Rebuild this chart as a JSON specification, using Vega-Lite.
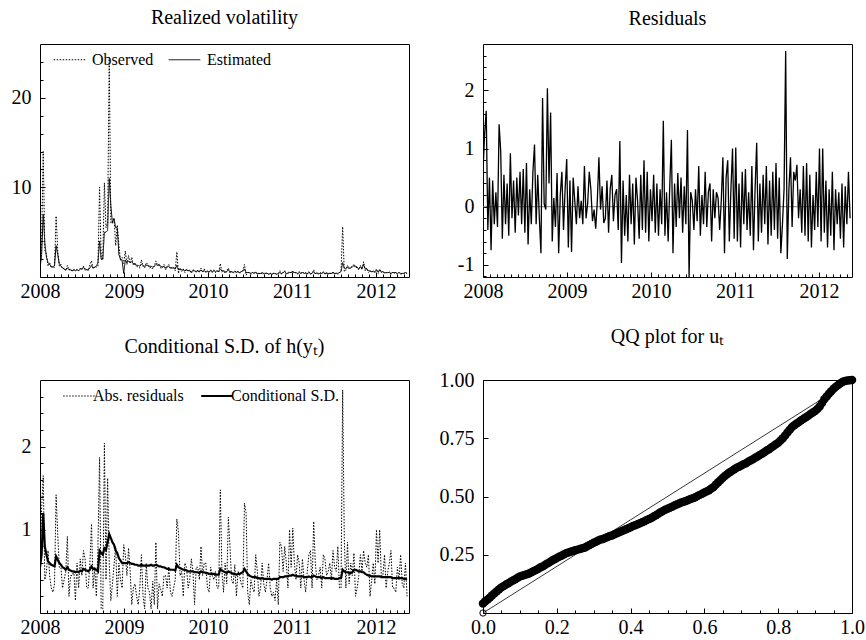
{
"$schema": "https://vega.github.io/schema/vega-lite/v6.json",
"background": "white",
"padding": {"left": 10, "top": 7, "right": 5, "bottom": 5},
"config": {
  "font": "Liberation Serif",
  "view": {"stroke": "black", "strokeWidth": 1},
  "axis": {"grid": false, "domain": false, "tickColor": "black", "tickWidth": 1, "labelColor": "black", "labelFont": "Liberation Serif", "labelFontSize": 20, "labelFlush": false, "labelOverlap": false, "labelBound": false, "zindex": 1},
  "title": {"font": "Liberation Serif", "fontSize": 20, "fontWeight": "normal", "color": "black", "anchor": "middle", "baseline": "alphabetic"},
  "legend": {"orient": "none", "direction": "horizontal", "symbolType": "stroke", "symbolSize": 1000, "symbolStrokeColor": "black", "symbolStrokeWidth": 1, "labelFont": "Liberation Serif", "labelFontSize": 16, "labelColor": "black", "labelOffset": 6, "columnPadding": 12, "padding": 0}
},
"datasets": {
"ts": [
{"w":0,"o":1.2,"e":0.9,"r":0.6,"a":0.6,"s":0.55},
{"w":1,"o":4.0,"e":2.5,"r":1.25,"a":1.25,"s":0.7},
{"w":2,"o":14.0,"e":7.0,"r":1.65,"a":1.65,"s":1.2},
{"w":3,"o":3.0,"e":3.8,"r":-0.4,"a":0.4,"s":0.8},
{"w":4,"o":2.5,"e":2.2,"r":0.5,"a":0.5,"s":0.7},
{"w":5,"o":1.2,"e":1.6,"r":-0.75,"a":0.75,"s":0.62},
{"w":6,"o":1.6,"e":1.4,"r":0.45,"a":0.45,"s":0.6},
{"w":7,"o":1.0,"e":1.2,"r":-0.3,"a":0.3,"s":0.58},
{"w":8,"o":1.2,"e":1.1,"r":0.25,"a":0.25,"s":0.57},
{"w":9,"o":1.0,"e":1.3,"r":-0.35,"a":0.35,"s":0.56},
{"w":10,"o":6.8,"e":3.5,"r":1.42,"a":1.42,"s":0.68},
{"w":11,"o":3.0,"e":2.5,"r":0.95,"a":0.95,"s":0.64},
{"w":12,"o":1.2,"e":1.5,"r":-0.55,"a":0.55,"s":0.6},
{"w":13,"o":1.4,"e":1.2,"r":0.55,"a":0.55,"s":0.58},
{"w":14,"o":0.9,"e":1.0,"r":-0.3,"a":0.3,"s":0.55},
{"w":15,"o":1.0,"e":0.9,"r":0.4,"a":0.4,"s":0.54},
{"w":16,"o":0.7,"e":0.8,"r":-0.5,"a":0.5,"s":0.52},
{"w":17,"o":1.3,"e":1.0,"r":0.92,"a":0.92,"s":0.55},
{"w":18,"o":0.8,"e":0.8,"r":-0.2,"a":0.2,"s":0.52},
{"w":19,"o":0.9,"e":0.8,"r":0.45,"a":0.45,"s":0.51},
{"w":20,"o":0.6,"e":0.7,"r":-0.45,"a":0.45,"s":0.5},
{"w":21,"o":0.9,"e":0.8,"r":0.5,"a":0.5,"s":0.5},
{"w":22,"o":0.7,"e":0.7,"r":-0.15,"a":0.15,"s":0.49},
{"w":23,"o":0.9,"e":0.8,"r":0.6,"a":0.6,"s":0.5},
{"w":24,"o":0.7,"e":0.7,"r":-0.3,"a":0.3,"s":0.49},
{"w":25,"o":1.0,"e":0.9,"r":0.65,"a":0.65,"s":0.51},
{"w":26,"o":0.8,"e":0.9,"r":-0.45,"a":0.45,"s":0.5},
{"w":27,"o":1.2,"e":1.1,"r":0.75,"a":0.75,"s":0.53},
{"w":28,"o":0.7,"e":0.9,"r":-0.65,"a":0.65,"s":0.52},
{"w":29,"o":0.9,"e":0.8,"r":0.3,"a":0.3,"s":0.51},
{"w":30,"o":0.7,"e":0.8,"r":-0.3,"a":0.3,"s":0.5},
{"w":31,"o":1.4,"e":1.0,"r":0.6,"a":0.6,"s":0.52},
{"w":32,"o":1.8,"e":1.3,"r":1.07,"a":1.07,"s":0.56},
{"w":33,"o":0.9,"e":1.0,"r":-0.3,"a":0.3,"s":0.53},
{"w":34,"o":1.2,"e":1.1,"r":0.55,"a":0.55,"s":0.53},
{"w":35,"o":1.1,"e":1.2,"r":-0.2,"a":0.2,"s":0.52},
{"w":36,"o":1.2,"e":1.6,"r":-0.8,"a":0.8,"s":0.5},
{"w":37,"o":10.0,"e":4.0,"r":1.87,"a":1.87,"s":0.75},
{"w":38,"o":2.0,"e":2.0,"r":0.05,"a":0.05,"s":0.72},
{"w":39,"o":1.9,"e":2.0,"r":-0.05,"a":0.05,"s":0.7},
{"w":40,"o":10.5,"e":5.0,"r":2.04,"a":2.04,"s":0.78},
{"w":41,"o":5.5,"e":5.0,"r":0.4,"a":0.4,"s":0.76},
{"w":42,"o":6.0,"e":5.2,"r":1.62,"a":1.62,"s":0.85},
{"w":43,"o":24.5,"e":11.0,"r":-0.6,"a":0.6,"s":0.95},
{"w":44,"o":6.0,"e":8.0,"r":0.15,"a":0.15,"s":0.9},
{"w":45,"o":6.2,"e":6.0,"r":-0.35,"a":0.35,"s":0.85},
{"w":46,"o":6.6,"e":6.5,"r":0.58,"a":0.58,"s":0.82},
{"w":47,"o":3.5,"e":5.5,"r":-0.8,"a":0.8,"s":0.75},
{"w":48,"o":5.8,"e":5.5,"r":0.2,"a":0.2,"s":0.72},
{"w":49,"o":3.6,"e":2.5,"r":0.6,"a":0.6,"s":0.66},
{"w":50,"o":1.8,"e":2.0,"r":-0.4,"a":0.4,"s":0.63},
{"w":51,"o":2.2,"e":1.8,"r":0.3,"a":0.3,"s":0.6},
{"w":52,"o":1.5,"e":0.4,"r":0.82,"a":0.82,"s":0.6},
{"w":53,"o":2.9,"e":1.9,"r":-0.7,"a":0.7,"s":0.6},
{"w":54,"o":1.4,"e":1.6,"r":0.45,"a":0.45,"s":0.6},
{"w":55,"o":2.4,"e":1.8,"r":-0.78,"a":0.78,"s":0.61},
{"w":56,"o":1.5,"e":1.6,"r":0.5,"a":0.5,"s":0.6},
{"w":57,"o":2.2,"e":1.7,"r":0.1,"a":0.1,"s":0.59},
{"w":58,"o":1.3,"e":1.5,"r":-0.3,"a":0.3,"s":0.59},
{"w":59,"o":1.6,"e":1.4,"r":0.35,"a":0.35,"s":0.58},
{"w":60,"o":1.2,"e":1.3,"r":-0.2,"a":0.2,"s":0.58},
{"w":61,"o":1.1,"e":1.3,"r":0.1,"a":0.1,"s":0.57},
{"w":62,"o":1.0,"e":1.2,"r":-0.3,"a":0.3,"s":0.57},
{"w":63,"o":1.9,"e":1.4,"r":0.7,"a":0.7,"s":0.58},
{"w":64,"o":1.2,"e":1.3,"r":-0.2,"a":0.2,"s":0.57},
{"w":65,"o":1.0,"e":1.2,"r":0.05,"a":0.05,"s":0.57},
{"w":66,"o":1.6,"e":1.3,"r":0.6,"a":0.6,"s":0.57},
{"w":67,"o":1.4,"e":1.3,"r":0.3,"a":0.3,"s":0.57},
{"w":68,"o":1.0,"e":1.2,"r":-0.25,"a":0.25,"s":0.57},
{"w":69,"o":1.1,"e":1.2,"r":-0.05,"a":0.05,"s":0.58},
{"w":70,"o":0.9,"e":1.1,"r":-0.38,"a":0.38,"s":0.57},
{"w":71,"o":1.2,"e":1.2,"r":0.1,"a":0.1,"s":0.57},
{"w":72,"o":1.8,"e":1.4,"r":0.85,"a":0.85,"s":0.58},
{"w":73,"o":1.3,"e":1.3,"r":-0.05,"a":0.05,"s":0.57},
{"w":74,"o":1.5,"e":1.3,"r":0.35,"a":0.35,"s":0.56},
{"w":75,"o":1.0,"e":1.2,"r":-0.28,"a":0.28,"s":0.56},
{"w":76,"o":1.0,"e":1.1,"r":-0.2,"a":0.2,"s":0.55},
{"w":77,"o":1.4,"e":1.2,"r":0.45,"a":0.45,"s":0.55},
{"w":78,"o":0.8,"e":1.0,"r":-0.45,"a":0.45,"s":0.54},
{"w":79,"o":1.2,"e":1.1,"r":0.3,"a":0.3,"s":0.53},
{"w":80,"o":1.4,"e":1.2,"r":0.55,"a":0.55,"s":0.53},
{"w":81,"o":0.9,"e":1.0,"r":-0.25,"a":0.25,"s":0.52},
{"w":82,"o":1.1,"e":1.0,"r":0.2,"a":0.2,"s":0.52},
{"w":83,"o":1.1,"e":1.0,"r":0.3,"a":0.3,"s":0.52},
{"w":84,"o":0.7,"e":0.9,"r":-0.4,"a":0.4,"s":0.51},
{"w":85,"o":2.8,"e":1.3,"r":1.13,"a":1.13,"s":0.58},
{"w":86,"o":0.4,"e":0.8,"r":-0.97,"a":0.97,"s":0.55},
{"w":87,"o":1.0,"e":0.9,"r":0.45,"a":0.45,"s":0.54},
{"w":88,"o":0.6,"e":0.8,"r":-0.5,"a":0.5,"s":0.53},
{"w":89,"o":0.9,"e":0.8,"r":0.2,"a":0.2,"s":0.52},
{"w":90,"o":0.5,"e":0.7,"r":-0.6,"a":0.6,"s":0.52},
{"w":91,"o":0.9,"e":0.8,"r":0.55,"a":0.55,"s":0.51},
{"w":92,"o":0.6,"e":0.7,"r":-0.3,"a":0.3,"s":0.5},
{"w":93,"o":0.8,"e":0.7,"r":0.4,"a":0.4,"s":0.5},
{"w":94,"o":0.4,"e":0.6,"r":-0.65,"a":0.65,"s":0.5},
{"w":95,"o":0.8,"e":0.7,"r":0.5,"a":0.5,"s":0.5},
{"w":96,"o":0.7,"e":0.7,"r":0.1,"a":0.1,"s":0.49},
{"w":97,"o":0.5,"e":0.6,"r":-0.55,"a":0.55,"s":0.49},
{"w":98,"o":0.8,"e":0.7,"r":0.55,"a":0.55,"s":0.49},
{"w":99,"o":0.5,"e":0.6,"r":-0.4,"a":0.4,"s":0.48},
{"w":100,"o":1.0,"e":0.8,"r":0.8,"a":0.8,"s":0.5},
{"w":101,"o":0.5,"e":0.6,"r":-0.45,"a":0.45,"s":0.49},
{"w":102,"o":0.9,"e":0.7,"r":0.6,"a":0.6,"s":0.49},
{"w":103,"o":0.5,"e":0.6,"r":-0.6,"a":0.6,"s":0.48},
{"w":104,"o":0.7,"e":0.6,"r":0.3,"a":0.3,"s":0.48},
{"w":105,"o":0.5,"e":0.6,"r":-0.25,"a":0.25,"s":0.47},
{"w":106,"o":0.8,"e":0.7,"r":0.55,"a":0.55,"s":0.47},
{"w":107,"o":0.5,"e":0.6,"r":-0.45,"a":0.45,"s":0.47},
{"w":108,"o":0.8,"e":0.7,"r":0.4,"a":0.4,"s":0.47},
{"w":109,"o":0.5,"e":0.6,"r":-0.5,"a":0.5,"s":0.46},
{"w":110,"o":0.7,"e":0.7,"r":0.3,"a":0.3,"s":0.46},
{"w":111,"o":0.5,"e":0.6,"r":-0.3,"a":0.3,"s":0.46},
{"w":112,"o":1.5,"e":0.9,"r":1.48,"a":1.48,"s":0.53},
{"w":113,"o":0.5,"e":0.7,"r":-0.5,"a":0.5,"s":0.51},
{"w":114,"o":0.7,"e":0.7,"r":0.25,"a":0.25,"s":0.5},
{"w":115,"o":0.4,"e":0.6,"r":-0.6,"a":0.6,"s":0.49},
{"w":116,"o":0.6,"e":0.6,"r":0.35,"a":0.35,"s":0.48},
{"w":117,"o":1.0,"e":0.8,"r":1.15,"a":1.15,"s":0.5},
{"w":118,"o":0.4,"e":0.6,"r":-0.8,"a":0.8,"s":0.49},
{"w":119,"o":0.6,"e":0.6,"r":0.4,"a":0.4,"s":0.48},
{"w":120,"o":0.5,"e":0.5,"r":-0.35,"a":0.35,"s":0.47},
{"w":121,"o":0.7,"e":0.6,"r":0.58,"a":0.58,"s":0.47},
{"w":122,"o":0.5,"e":0.5,"r":-0.2,"a":0.2,"s":0.46},
{"w":123,"o":0.7,"e":0.6,"r":0.5,"a":0.5,"s":0.47},
{"w":124,"o":0.4,"e":0.5,"r":-0.45,"a":0.45,"s":0.47},
{"w":125,"o":0.6,"e":0.6,"r":0.35,"a":0.35,"s":0.48},
{"w":126,"o":0.6,"e":0.7,"r":-0.3,"a":0.3,"s":0.49},
{"w":127,"o":1.4,"e":0.9,"r":1.32,"a":1.32,"s":0.53},
{"w":128,"o":0.2,"e":0.5,"r":-1.21,"a":1.21,"s":0.5},
{"w":129,"o":0.5,"e":0.5,"r":0.25,"a":0.25,"s":0.47},
{"w":130,"o":0.5,"e":0.5,"r":0.1,"a":0.1,"s":0.45},
{"w":131,"o":0.3,"e":0.4,"r":-0.4,"a":0.4,"s":0.44},
{"w":132,"o":0.5,"e":0.5,"r":0.3,"a":0.3,"s":0.43},
{"w":133,"o":0.4,"e":0.4,"r":-0.25,"a":0.25,"s":0.43},
{"w":134,"o":0.6,"e":0.5,"r":0.7,"a":0.7,"s":0.43},
{"w":135,"o":0.3,"e":0.4,"r":-0.5,"a":0.5,"s":0.42},
{"w":136,"o":0.4,"e":0.4,"r":0.2,"a":0.2,"s":0.42},
{"w":137,"o":0.3,"e":0.4,"r":-0.3,"a":0.3,"s":0.41},
{"w":138,"o":0.5,"e":0.5,"r":0.6,"a":0.6,"s":0.42},
{"w":139,"o":0.3,"e":0.4,"r":-0.35,"a":0.35,"s":0.41},
{"w":140,"o":0.4,"e":0.4,"r":0.25,"a":0.25,"s":0.41},
{"w":141,"o":0.5,"e":0.4,"r":0.4,"a":0.4,"s":0.41},
{"w":142,"o":0.3,"e":0.3,"r":-0.6,"a":0.6,"s":0.41},
{"w":143,"o":0.4,"e":0.4,"r":0.3,"a":0.3,"s":0.41},
{"w":144,"o":0.3,"e":0.3,"r":-0.2,"a":0.2,"s":0.4},
{"w":145,"o":0.4,"e":0.4,"r":0.25,"a":0.25,"s":0.41},
{"w":146,"o":0.4,"e":0.4,"r":0.15,"a":0.15,"s":0.41},
{"w":147,"o":0.3,"e":0.3,"r":-0.4,"a":0.4,"s":0.41},
{"w":148,"o":0.4,"e":0.4,"r":0.1,"a":0.1,"s":0.41},
{"w":149,"o":0.7,"e":0.5,"r":0.85,"a":0.85,"s":0.43},
{"w":150,"o":0.3,"e":0.4,"r":-0.8,"a":0.8,"s":0.43},
{"w":151,"o":0.5,"e":0.5,"r":0.5,"a":0.5,"s":0.43},
{"w":152,"o":0.7,"e":0.6,"r":0.8,"a":0.8,"s":0.44},
{"w":153,"o":0.3,"e":0.4,"r":-0.6,"a":0.6,"s":0.44},
{"w":154,"o":0.5,"e":0.4,"r":0.3,"a":0.3,"s":0.44},
{"w":155,"o":0.6,"e":0.5,"r":1.0,"a":1.0,"s":0.45},
{"w":156,"o":0.4,"e":0.5,"r":-0.55,"a":0.55,"s":0.45},
{"w":157,"o":0.7,"e":0.6,"r":1.02,"a":1.02,"s":0.46},
{"w":158,"o":0.4,"e":0.5,"r":-0.6,"a":0.6,"s":0.45},
{"w":159,"o":0.5,"e":0.5,"r":0.4,"a":0.4,"s":0.45},
{"w":160,"o":0.3,"e":0.4,"r":-0.7,"a":0.7,"s":0.44},
{"w":161,"o":0.6,"e":0.5,"r":0.6,"a":0.6,"s":0.44},
{"w":162,"o":0.4,"e":0.4,"r":-0.3,"a":0.3,"s":0.44},
{"w":163,"o":0.6,"e":0.5,"r":0.65,"a":0.65,"s":0.44},
{"w":164,"o":0.4,"e":0.4,"r":-0.4,"a":0.4,"s":0.43},
{"w":165,"o":0.5,"e":0.4,"r":0.25,"a":0.25,"s":0.43},
{"w":166,"o":0.3,"e":0.4,"r":-0.5,"a":0.5,"s":0.43},
{"w":167,"o":0.6,"e":0.5,"r":0.7,"a":0.7,"s":0.44},
{"w":168,"o":0.3,"e":0.4,"r":-0.75,"a":0.75,"s":0.43},
{"w":169,"o":0.4,"e":0.4,"r":0.3,"a":0.3,"s":0.43},
{"w":170,"o":0.8,"e":0.6,"r":1.1,"a":1.1,"s":0.45},
{"w":171,"o":0.3,"e":0.4,"r":-0.6,"a":0.6,"s":0.44},
{"w":172,"o":0.5,"e":0.4,"r":0.4,"a":0.4,"s":0.43},
{"w":173,"o":0.3,"e":0.4,"r":-0.45,"a":0.45,"s":0.43},
{"w":174,"o":0.5,"e":0.4,"r":0.55,"a":0.55,"s":0.43},
{"w":175,"o":0.4,"e":0.4,"r":-0.3,"a":0.3,"s":0.42},
{"w":176,"o":0.6,"e":0.5,"r":0.7,"a":0.7,"s":0.43},
{"w":177,"o":0.3,"e":0.4,"r":-0.65,"a":0.65,"s":0.42},
{"w":178,"o":0.5,"e":0.4,"r":0.45,"a":0.45,"s":0.42},
{"w":179,"o":0.3,"e":0.4,"r":-0.5,"a":0.5,"s":0.42},
{"w":180,"o":0.5,"e":0.4,"r":0.6,"a":0.6,"s":0.42},
{"w":181,"o":0.3,"e":0.4,"r":-0.4,"a":0.4,"s":0.41},
{"w":182,"o":0.6,"e":0.5,"r":0.75,"a":0.75,"s":0.42},
{"w":183,"o":0.3,"e":0.4,"r":-0.55,"a":0.55,"s":0.41},
{"w":184,"o":0.5,"e":0.4,"r":0.5,"a":0.5,"s":0.41},
{"w":185,"o":0.3,"e":0.4,"r":-0.8,"a":0.8,"s":0.41},
{"w":186,"o":0.5,"e":0.5,"r":-0.3,"a":0.3,"s":0.42},
{"w":187,"o":0.7,"e":0.6,"r":0.3,"a":0.3,"s":0.42},
{"w":188,"o":5.6,"e":1.6,"r":2.68,"a":2.68,"s":0.52},
{"w":189,"o":0.6,"e":1.0,"r":-0.9,"a":0.9,"s":0.5},
{"w":190,"o":0.8,"e":0.9,"r":0.3,"a":0.3,"s":0.49},
{"w":191,"o":1.3,"e":1.1,"r":0.85,"a":0.85,"s":0.49},
{"w":192,"o":0.9,"e":1.0,"r":-0.35,"a":0.35,"s":0.48},
{"w":193,"o":1.1,"e":1.0,"r":0.6,"a":0.6,"s":0.48},
{"w":194,"o":1.2,"e":1.1,"r":0.45,"a":0.45,"s":0.49},
{"w":195,"o":1.4,"e":1.3,"r":0.72,"a":0.72,"s":0.52},
{"w":196,"o":1.0,"e":1.2,"r":-0.2,"a":0.2,"s":0.52},
{"w":197,"o":1.1,"e":1.1,"r":0.3,"a":0.3,"s":0.51},
{"w":198,"o":0.8,"e":0.9,"r":-0.45,"a":0.45,"s":0.5},
{"w":199,"o":1.3,"e":1.1,"r":0.7,"a":0.7,"s":0.5},
{"w":200,"o":0.8,"e":1.0,"r":-0.5,"a":0.5,"s":0.49},
{"w":201,"o":1.7,"e":1.4,"r":0.75,"a":0.75,"s":0.49},
{"w":202,"o":0.7,"e":0.9,"r":-0.6,"a":0.6,"s":0.47},
{"w":203,"o":1.0,"e":0.9,"r":0.55,"a":0.55,"s":0.46},
{"w":204,"o":0.5,"e":0.7,"r":-0.7,"a":0.7,"s":0.45},
{"w":205,"o":0.7,"e":0.7,"r":0.2,"a":0.2,"s":0.45},
{"w":206,"o":0.5,"e":0.6,"r":-0.4,"a":0.4,"s":0.44},
{"w":207,"o":0.7,"e":0.6,"r":0.6,"a":0.6,"s":0.44},
{"w":208,"o":0.5,"e":0.6,"r":-0.35,"a":0.35,"s":0.44},
{"w":209,"o":0.9,"e":0.7,"r":1.0,"a":1.0,"s":0.44},
{"w":210,"o":0.4,"e":0.6,"r":-0.6,"a":0.6,"s":0.44},
{"w":211,"o":0.9,"e":0.7,"r":1.0,"a":1.0,"s":0.44},
{"w":212,"o":0.5,"e":0.6,"r":-0.45,"a":0.45,"s":0.43},
{"w":213,"o":0.6,"e":0.6,"r":0.45,"a":0.45,"s":0.43},
{"w":214,"o":0.4,"e":0.5,"r":-0.7,"a":0.7,"s":0.43},
{"w":215,"o":0.5,"e":0.5,"r":0.3,"a":0.3,"s":0.43},
{"w":216,"o":0.4,"e":0.5,"r":-0.5,"a":0.5,"s":0.43},
{"w":217,"o":0.6,"e":0.5,"r":0.6,"a":0.6,"s":0.43},
{"w":218,"o":0.3,"e":0.4,"r":-0.75,"a":0.75,"s":0.43},
{"w":219,"o":0.5,"e":0.5,"r":0.3,"a":0.3,"s":0.42},
{"w":220,"o":0.4,"e":0.5,"r":-0.3,"a":0.3,"s":0.42},
{"w":221,"o":0.5,"e":0.5,"r":0.25,"a":0.25,"s":0.42},
{"w":222,"o":0.3,"e":0.4,"r":-0.55,"a":0.55,"s":0.42},
{"w":223,"o":0.5,"e":0.5,"r":0.4,"a":0.4,"s":0.42},
{"w":224,"o":0.3,"e":0.4,"r":-0.7,"a":0.7,"s":0.42},
{"w":225,"o":0.4,"e":0.4,"r":0.35,"a":0.35,"s":0.42},
{"w":226,"o":0.4,"e":0.4,"r":-0.3,"a":0.3,"s":0.41},
{"w":227,"o":0.5,"e":0.5,"r":0.6,"a":0.6,"s":0.41},
{"w":228,"o":0.4,"e":0.4,"r":-0.2,"a":0.2,"s":0.41}
],
"qq": [
{"p":0.0,"q":0.041},{"p":0.00625,"q":0.05},{"p":0.0125,"q":0.058},{"p":0.01875,"q":0.067},{"p":0.025,"q":0.076},{"p":0.03125,"q":0.085},{"p":0.0375,"q":0.093},{"p":0.04375,"q":0.102},{"p":0.05,"q":0.11},{"p":0.05625,"q":0.116},{"p":0.0625,"q":0.122},{"p":0.06875,"q":0.128},{"p":0.075,"q":0.134},{"p":0.08125,"q":0.14},{"p":0.0875,"q":0.145},{"p":0.09375,"q":0.151},{"p":0.1,"q":0.157},{"p":0.10625,"q":0.16},{"p":0.1125,"q":0.163},{"p":0.11875,"q":0.166},{"p":0.125,"q":0.17},{"p":0.13125,"q":0.175},{"p":0.1375,"q":0.18},{"p":0.14375,"q":0.185},{"p":0.15,"q":0.19},{"p":0.15625,"q":0.196},{"p":0.1625,"q":0.201},{"p":0.16875,"q":0.207},{"p":0.175,"q":0.213},{"p":0.18125,"q":0.219},{"p":0.1875,"q":0.225},{"p":0.19375,"q":0.231},{"p":0.2,"q":0.236},{"p":0.20625,"q":0.241},{"p":0.2125,"q":0.246},{"p":0.21875,"q":0.251},{"p":0.225,"q":0.256},{"p":0.23125,"q":0.26},{"p":0.2375,"q":0.263},{"p":0.24375,"q":0.266},{"p":0.25,"q":0.269},{"p":0.25625,"q":0.272},{"p":0.2625,"q":0.275},{"p":0.26875,"q":0.278},{"p":0.275,"q":0.28},{"p":0.28125,"q":0.285},{"p":0.2875,"q":0.291},{"p":0.29375,"q":0.296},{"p":0.3,"q":0.301},{"p":0.30625,"q":0.306},{"p":0.3125,"q":0.311},{"p":0.31875,"q":0.315},{"p":0.325,"q":0.318},{"p":0.33125,"q":0.322},{"p":0.3375,"q":0.326},{"p":0.34375,"q":0.33},{"p":0.35,"q":0.333},{"p":0.35625,"q":0.338},{"p":0.3625,"q":0.342},{"p":0.36875,"q":0.347},{"p":0.375,"q":0.351},{"p":0.38125,"q":0.355},{"p":0.3875,"q":0.359},{"p":0.39375,"q":0.364},{"p":0.4,"q":0.368},{"p":0.40625,"q":0.373},{"p":0.4125,"q":0.377},{"p":0.41875,"q":0.381},{"p":0.425,"q":0.385},{"p":0.43125,"q":0.39},{"p":0.4375,"q":0.394},{"p":0.44375,"q":0.399},{"p":0.45,"q":0.403},{"p":0.45625,"q":0.408},{"p":0.4625,"q":0.414},{"p":0.46875,"q":0.42},{"p":0.475,"q":0.426},{"p":0.48125,"q":0.432},{"p":0.4875,"q":0.438},{"p":0.49375,"q":0.443},{"p":0.5,"q":0.447},{"p":0.50625,"q":0.452},{"p":0.5125,"q":0.456},{"p":0.51875,"q":0.461},{"p":0.525,"q":0.466},{"p":0.53125,"q":0.47},{"p":0.5375,"q":0.474},{"p":0.54375,"q":0.478},{"p":0.55,"q":0.481},{"p":0.55625,"q":0.485},{"p":0.5625,"q":0.489},{"p":0.56875,"q":0.493},{"p":0.575,"q":0.497},{"p":0.58125,"q":0.502},{"p":0.5875,"q":0.507},{"p":0.59375,"q":0.512},{"p":0.6,"q":0.517},{"p":0.60625,"q":0.522},{"p":0.6125,"q":0.527},{"p":0.61875,"q":0.534},{"p":0.625,"q":0.541},{"p":0.63125,"q":0.551},{"p":0.6375,"q":0.561},{"p":0.64375,"q":0.571},{"p":0.65,"q":0.58},{"p":0.65625,"q":0.589},{"p":0.6625,"q":0.597},{"p":0.66875,"q":0.604},{"p":0.675,"q":0.61},{"p":0.68125,"q":0.617},{"p":0.6875,"q":0.623},{"p":0.69375,"q":0.628},{"p":0.7,"q":0.633},{"p":0.70625,"q":0.638},{"p":0.7125,"q":0.643},{"p":0.71875,"q":0.649},{"p":0.725,"q":0.654},{"p":0.73125,"q":0.66},{"p":0.7375,"q":0.666},{"p":0.74375,"q":0.672},{"p":0.75,"q":0.678},{"p":0.75625,"q":0.684},{"p":0.7625,"q":0.69},{"p":0.76875,"q":0.697},{"p":0.775,"q":0.703},{"p":0.78125,"q":0.71},{"p":0.7875,"q":0.717},{"p":0.79375,"q":0.724},{"p":0.8,"q":0.731},{"p":0.80625,"q":0.74},{"p":0.8125,"q":0.75},{"p":0.81875,"q":0.762},{"p":0.825,"q":0.775},{"p":0.83125,"q":0.787},{"p":0.8375,"q":0.798},{"p":0.84375,"q":0.806},{"p":0.85,"q":0.813},{"p":0.85625,"q":0.82},{"p":0.8625,"q":0.827},{"p":0.86875,"q":0.834},{"p":0.875,"q":0.84},{"p":0.88125,"q":0.847},{"p":0.8875,"q":0.854},{"p":0.89375,"q":0.861},{"p":0.9,"q":0.867},{"p":0.90625,"q":0.876},{"p":0.9125,"q":0.886},{"p":0.91875,"q":0.901},{"p":0.925,"q":0.917},{"p":0.93125,"q":0.929},{"p":0.9375,"q":0.941},{"p":0.94375,"q":0.952},{"p":0.95,"q":0.962},{"p":0.95625,"q":0.971},{"p":0.9625,"q":0.979},{"p":0.96875,"q":0.986},{"p":0.975,"q":0.992},{"p":0.98125,"q":0.996},{"p":0.9875,"q":0.998},{"p":0.99375,"q":0.999},{"p":1.0,"q":1.0}
],
"diag": [{"p":0,"q":0},{"p":1,"q":1}]
},
"columns": 2,
"spacing": {"row": 103, "column": 74},
"bounds": "flush",
"resolve": {"scale": {"strokeDash": "independent"}, "legend": {"strokeDash": "independent"}},
"concat": [
{
  "width": 369, "height": 233,
  "title": {"text": "Realized volatility", "offset": 15},
  "data": {"name": "ts"},
  "resolve": {"axis": {"x": "independent", "y": "independent"}},
  "layer": [
    {"mark": {"type": "line", "color": "black", "strokeWidth": 1, "clip": true},
     "encoding": {
       "x": {"field": "w", "type": "quantitative", "scale": {"domain": [0, 229.2], "nice": false, "zero": false},
             "axis": {"orient": "bottom", "title": null, "labels": false, "tickSize": -3, "values": [4.35,8.7,13.05,17.39,21.74,26.09,30.44,34.79,39.14,43.48,47.83,56.53,60.88,65.23,69.58,73.92,78.27,82.62,86.97,91.32,95.67,100.02,108.71,113.06,117.41,121.76,126.11,130.46,134.8,139.15,143.5,147.85,152.2,160.9,165.24,169.59,173.94,178.29,182.64,186.99,191.34,195.68,200.03,204.38,213.08,217.43,221.78,226.13]}},
       "y": {"field": "o", "type": "quantitative", "scale": {"domain": [0, 26], "nice": false, "zero": false},
             "axis": {"orient": "left", "title": null, "labels": false, "tickSize": -3, "values": [2,4,6,8,12,14,16,18,22,24]}},
       "strokeDash": {"datum": "Observed", "type": "nominal",
             "scale": {"domain": ["Observed", "Estimated"], "range": [[1.5,1.5],[1,0]]},
             "legend": {"title": null, "legendX": 13, "legendY": -1}}
     }},
    {"mark": {"type": "line", "color": "black", "strokeWidth": 1, "clip": true},
     "encoding": {
       "x": {"field": "w", "type": "quantitative",
             "axis": {"orient": "bottom", "title": null, "tickSize": -5, "labelPadding": 9, "values": [0, 52.18, 104.36, 156.54, 208.72], "labelExpr": "'' + (2008 + round(datum.value / 52.18))"}},
       "y": {"field": "e", "type": "quantitative",
             "axis": {"orient": "left", "title": null, "tickSize": -5, "labelPadding": 14, "values": [10, 20], "labelExpr": "'' + datum.value"}},
       "strokeDash": {"datum": "Estimated", "type": "nominal"}
     }}
  ]
},
{
  "width": 369, "height": 233,
  "title": {"text": "Residuals", "offset": 15},
  "data": {"name": "ts"},
  "resolve": {"axis": {"x": "independent", "y": "independent"}},
  "layer": [
    {"mark": {"type": "rule", "color": "#808080", "strokeWidth": 1},
     "encoding": {
       "x": {"aggregate": "min", "field": "w", "type": "quantitative", "scale": {"domain": [0, 229.2], "nice": false, "zero": false},
             "axis": {"orient": "bottom", "title": null, "labels": false, "tickSize": -3, "values": [4.35,8.7,13.05,17.39,21.74,26.09,30.44,34.79,39.14,43.48,47.83,56.53,60.88,65.23,69.58,73.92,78.27,82.62,86.97,91.32,95.67,100.02,108.71,113.06,117.41,121.76,126.11,130.46,134.8,139.15,143.5,147.85,152.2,160.9,165.24,169.59,173.94,178.29,182.64,186.99,191.34,195.68,200.03,204.38,213.08,217.43,221.78,226.13]}},
       "x2": {"aggregate": "max", "field": "w"},
       "y": {"datum": 0, "type": "quantitative", "scale": {"domain": [-1.21, 2.8], "nice": false, "zero": false},
             "axis": {"orient": "left", "title": null, "labels": false, "tickSize": -3, "values": [-1.2,-0.8,-0.6,-0.4,-0.2,0.2,0.4,0.6,0.8,1.2,1.4,1.6,1.8,2.2,2.4,2.6]}}
     }},
    {"mark": {"type": "line", "color": "black", "strokeWidth": 1.3, "clip": true},
     "encoding": {
       "x": {"field": "w", "type": "quantitative",
             "axis": {"orient": "bottom", "title": null, "tickSize": -5, "labelPadding": 9, "values": [0, 52.18, 104.36, 156.54, 208.72], "labelExpr": "'' + (2008 + round(datum.value / 52.18))"}},
       "y": {"field": "r", "type": "quantitative",
             "axis": {"orient": "left", "title": null, "tickSize": -5, "labelPadding": 14, "values": [-1, 0, 1, 2], "labelExpr": "'' + datum.value"}}
     }}
  ]
},
{
  "width": 369, "height": 233,
  "title": {"text": "Conditional S.D. of h(yₜ)", "offset": 23},
  "data": {"name": "ts"},
  "resolve": {"axis": {"x": "independent", "y": "independent"}},
  "layer": [
    {"mark": {"type": "line", "color": "black", "strokeWidth": 1, "clip": true},
     "encoding": {
       "x": {"field": "w", "type": "quantitative", "scale": {"domain": [0, 229.2], "nice": false, "zero": false},
             "axis": {"orient": "bottom", "title": null, "labels": false, "tickSize": -3, "values": [4.35,8.7,13.05,17.39,21.74,26.09,30.44,34.79,39.14,43.48,47.83,56.53,60.88,65.23,69.58,73.92,78.27,82.62,86.97,91.32,95.67,100.02,108.71,113.06,117.41,121.76,126.11,130.46,134.8,139.15,143.5,147.85,152.2,160.9,165.24,169.59,173.94,178.29,182.64,186.99,191.34,195.68,200.03,204.38,213.08,217.43,221.78,226.13]}},
       "y": {"field": "a", "type": "quantitative", "scale": {"domain": [0, 2.8], "nice": false, "zero": false},
             "axis": {"orient": "left", "title": null, "labels": false, "tickSize": -3, "values": [0.2,0.4,0.6,0.8,1.2,1.4,1.6,1.8,2.2,2.4,2.6]}},
       "strokeDash": {"datum": "Abs. residuals", "type": "nominal",
             "scale": {"domain": ["Abs. residuals", "Conditional S.D."], "range": [[1.5,1.5],[1,0]]},
             "legend": {"title": null, "legendX": 31, "legendY": 8,
                        "encode": {"symbols": {"update": {"strokeWidth": {"signal": "datum.value === 'Conditional S.D.' ? 2.2 : 1"}}}}}}
     }},
    {"mark": {"type": "line", "color": "black", "strokeWidth": 2.2, "clip": true},
     "encoding": {
       "x": {"field": "w", "type": "quantitative",
             "axis": {"orient": "bottom", "title": null, "tickSize": -5, "labelPadding": 9, "values": [0, 52.18, 104.36, 156.54, 208.72], "labelExpr": "'' + (2008 + round(datum.value / 52.18))"}},
       "y": {"field": "s", "type": "quantitative",
             "axis": {"orient": "left", "title": null, "tickSize": -5, "labelPadding": 14, "values": [1, 2], "labelExpr": "'' + datum.value"}},
       "strokeDash": {"datum": "Conditional S.D.", "type": "nominal"}
     }}
  ]
},
{
  "width": 369, "height": 233,
  "title": {"text": "QQ plot for uₜ", "offset": 23},
  "resolve": {"axis": {"x": "independent", "y": "independent"}},
  "layer": [
    {"data": {"name": "diag"},
     "mark": {"type": "line", "color": "black", "strokeWidth": 0.8},
     "encoding": {
       "x": {"field": "p", "type": "quantitative", "scale": {"domain": [0, 1], "nice": false, "zero": false},
             "axis": {"orient": "bottom", "title": null, "labels": false, "tickSize": -3, "values": [0.05,0.1,0.15,0.25,0.3,0.35,0.45,0.5,0.55,0.65,0.7,0.75,0.85,0.9,0.95]}},
       "y": {"field": "q", "type": "quantitative", "scale": {"domain": [0, 1], "nice": false, "zero": false}, "axis": null}
     }},
    {"data": {"name": "qq"},
     "mark": {"type": "point", "filled": true, "color": "black", "size": 72, "opacity": 1},
     "encoding": {
       "x": {"field": "p", "type": "quantitative",
             "axis": {"orient": "bottom", "title": null, "tickSize": -5, "labelPadding": 9, "values": [0, 0.2, 0.4, 0.6, 0.8, 1.0], "format": ".1f"}},
       "y": {"field": "q", "type": "quantitative",
             "axis": {"orient": "left", "title": null, "tickSize": -5, "labelPadding": 14, "values": [0.25, 0.5, 0.75, 1.0], "format": ".2f"}}
     }},
    {"data": {"name": "diag"},
     "transform": [{"filter": "datum.p == 0"}],
     "mark": {"type": "point", "filled": false, "color": "black", "size": 40, "strokeWidth": 1, "opacity": 1},
     "encoding": {
       "x": {"field": "p", "type": "quantitative", "axis": null},
       "y": {"field": "q", "type": "quantitative", "axis": null}
     }}
  ]
}
]
}
